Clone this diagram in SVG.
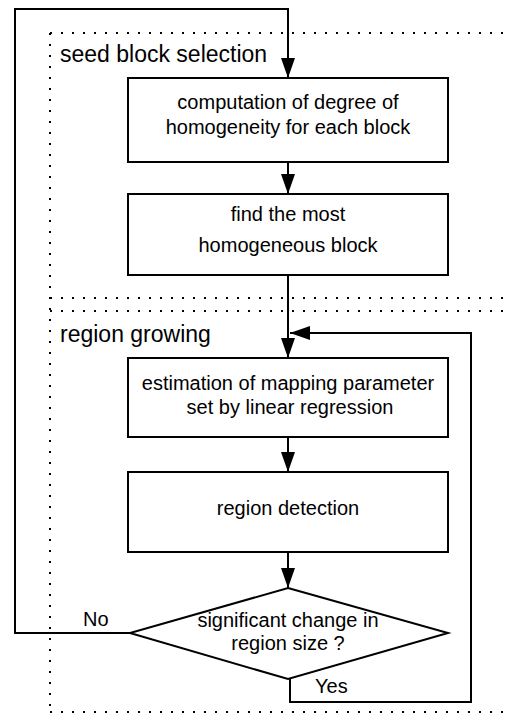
<svg xmlns="http://www.w3.org/2000/svg" width="511" height="725" viewBox="0 0 511 725">
  <style>
    .box { fill: #ffffff; stroke: #000000; stroke-width: 2; }
    .txt { font-family: "Liberation Sans", Arial, sans-serif; font-size: 20px; fill: #000000; text-anchor: middle; }
    .lbl { font-family: "Liberation Sans", Arial, sans-serif; font-size: 20px; fill: #000000; }
    .head { font-family: "Liberation Sans", Arial, sans-serif; font-size: 23px; fill: #000000; }
    .line { fill: none; stroke: #000000; stroke-width: 2; }
    .dots { fill: none; stroke: #000000; stroke-width: 2; stroke-dasharray: 2 9; }
  </style>
  <defs>
    <marker id="arrow" viewBox="0 0 20 14" refX="20" refY="7" markerWidth="20" markerHeight="14" markerUnits="userSpaceOnUse" orient="auto">
      <path d="M0,0 L20,7 L0,14 Z" fill="#000000"/>
    </marker>
  </defs>

  <rect width="511" height="725" fill="#ffffff"/>

  <!-- dotted stage frames -->
  <g id="stages">
    <line class="dots" x1="50" y1="33" x2="511" y2="33"/>
    <line class="dots" x1="50" y1="33" x2="50" y2="712"/>
    <line class="dots" x1="50" y1="712" x2="511" y2="712"/>
    <line class="dots" x1="50" y1="298" x2="511" y2="298"/>
    <line class="dots" x1="50" y1="311" x2="511" y2="311"/>
    <text class="head" x="60" y="62">seed block selection</text>
    <text class="head" x="60" y="342">region growing</text>
  </g>

  <g id="connectors">
    <!-- outer loop: No branch back to seed block selection -->
    <path class="line" d="M130,633 H15 V9 H288 V78" marker-end="url(#arrow)"/>
    <path class="line" d="M288,162 V194" marker-end="url(#arrow)"/>
    <path class="line" d="M288,275 V358" marker-end="url(#arrow)"/>
    <path class="line" d="M288,437 V472" marker-end="url(#arrow)"/>
    <path class="line" d="M288,552 V588" marker-end="url(#arrow)"/>
    <!-- inner loop: Yes branch back to parameter estimation -->
    <path class="line" d="M290,679 V702 H471 V333 H290" marker-end="url(#arrow)"/>
    <text class="lbl" x="83" y="626">No</text>
    <text class="lbl" x="315" y="693">Yes</text>
  </g>

  <g id="n1">
    <rect class="box" x="128" y="78" width="320" height="84"/>
    <text class="txt" x="288" y="109">computation of degree of</text>
    <text class="txt" x="288" y="134">homogeneity for each block</text>
  </g>

  <g id="n2">
    <rect class="box" x="128" y="194" width="320" height="81"/>
    <text class="txt" x="288" y="221">find the most</text>
    <text class="txt" x="288" y="252">homogeneous block</text>
  </g>

  <g id="n3">
    <rect class="box" x="128" y="358" width="320" height="79"/>
    <text class="txt" x="288" y="390">estimation of mapping parameter</text>
    <text class="txt" x="290" y="414">set by linear regression</text>
  </g>

  <g id="n4">
    <rect class="box" x="128" y="472" width="320" height="80"/>
    <text class="txt" x="288" y="515">region detection</text>
  </g>

  <g id="n5">
    <polygon class="box" points="288,588 448,633 288,679 130,633"/>
    <text class="txt" x="288" y="627">significant change in</text>
    <text class="txt" x="288" y="650">region size ?</text>
  </g>
</svg>
